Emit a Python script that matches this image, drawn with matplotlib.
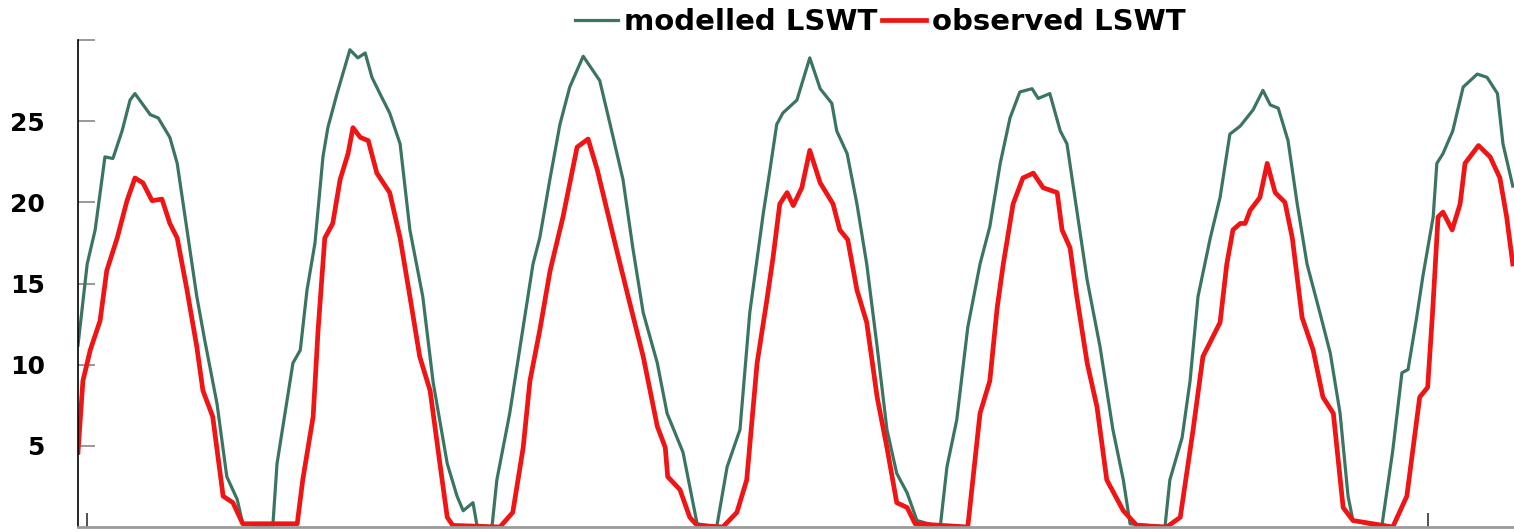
import matplotlib
matplotlib.use("Agg")
import matplotlib.pyplot as plt

# time axis: days since start of record
model_days = [0, 15, 28, 44, 57, 72, 85, 93, 118, 131, 150, 162, 178, 194, 207, 227, 243, 260, 269,
              318, 325, 351, 363, 374, 387, 400, 408, 423, 444, 457, 469, 480, 493, 509, 526, 542, 563,
              580, 603, 619, 629, 645, 652,
              676, 684, 705, 722, 743, 754, 771, 787, 803, 825, 852, 869, 890, 906, 923, 946, 962, 988, 1011,
              1043, 1060, 1081, 1097, 1119, 1130, 1141, 1151, 1174, 1195, 1212, 1231, 1239, 1256, 1272, 1288,
              1305, 1321, 1337, 1354, 1370,
              1408, 1419, 1435, 1453, 1473, 1489, 1506, 1522, 1538, 1558, 1568, 1587, 1604, 1615, 1628, 1648,
              1669, 1690, 1707, 1718,
              1775, 1783, 1803, 1816, 1829, 1849, 1865, 1881, 1898, 1919, 1935, 1947, 1960, 1976, 1991, 2007,
              2028, 2045, 2061, 2074, 2082,
              2129, 2147, 2162, 2172, 2186, 2196, 2213, 2219, 2229, 2245, 2262, 2285, 2301, 2318, 2327, 2343]
model_lswt = [11.2, 16.2, 18.3, 22.8, 22.7, 24.4, 26.3, 26.7, 25.4, 25.2, 24.0, 22.4, 18.3, 14.2, 11.5, 7.6, 3.1, 1.7, 0.2,
              0.0, 3.9, 10.1, 10.9, 14.6, 17.5, 22.8, 24.6, 26.7, 29.4, 28.9, 29.2, 27.7, 26.7, 25.5, 23.6, 18.3, 14.2,
              8.9, 3.9, 1.9, 1.0, 1.5, 0.0,
              0.0, 2.9, 7.0, 11.1, 16.2, 17.8, 21.5, 24.8, 27.1, 29.0, 27.5, 24.8, 21.4, 17.2, 13.2, 10.1, 7.0, 4.6, 0.2,
              0.0, 3.7, 6.0, 13.2, 19.3, 22.0, 24.8, 25.5, 26.3, 28.9, 27.0, 26.1, 24.4, 23.0, 19.9, 16.2,
              11.1, 6.0, 3.3, 2.1, 0.4,
              0.0, 3.7, 6.6, 12.3, 16.2, 18.5, 22.4, 25.2, 26.8, 27.0, 26.4, 26.7, 24.4, 23.6, 20.3, 15.2,
              11.1, 6.0, 2.9, 0.2,
              0.0, 2.9, 5.5, 9.0, 14.2, 17.8, 20.3, 24.2, 24.7, 25.7, 26.9, 26.0, 25.8, 23.8, 19.9, 16.2,
              13.2, 10.7, 7.0, 1.9, 0.4,
              0.0, 4.7, 9.5, 9.7, 12.9, 15.4, 19.1, 22.4, 23.0, 24.4, 27.1, 27.9, 27.7, 26.7, 23.6, 21.0]

obs_days = [0, 8, 20, 36, 47, 64, 80, 93, 106, 121, 137, 150, 162, 178, 194, 204, 220, 237, 253, 269,
            358, 367, 384, 392, 403, 416, 428, 441, 449, 461, 474, 488, 509, 526, 542, 558, 575, 591, 603, 612,
            689, 710, 727, 738, 754, 771, 792, 815, 833, 848, 864, 880, 901, 923, 946, 959, 963, 983, 999, 1011,
            1053, 1076, 1092, 1109, 1125, 1135, 1146, 1158, 1168, 1182, 1195, 1212, 1233, 1244, 1257, 1272, 1288,
            1305, 1321, 1337, 1354, 1367,
            1453, 1473, 1489, 1501, 1511, 1527, 1543, 1560, 1576, 1599, 1607, 1620, 1631, 1648, 1664, 1680, 1707, 1729,
            1778, 1800, 1821, 1837, 1865, 1876, 1886, 1898, 1906, 1914, 1930, 1942, 1955, 1971, 1983, 1999,
            2017, 2033, 2050, 2066, 2082,
            2147, 2170, 2191, 2204, 2212, 2221, 2229, 2244, 2257, 2265, 2287, 2306, 2322, 2333, 2343]
obs_lswt = [4.6, 9.0, 10.9, 12.7, 15.8, 17.8, 20.1, 21.5, 21.2, 20.1, 20.2, 18.7, 17.8, 14.6, 11.1, 8.4, 6.8, 1.9, 1.5, 0.2,
            0.2, 2.9, 6.8, 12.1, 17.8, 18.7, 21.4, 23.0, 24.6, 24.0, 23.8, 21.8, 20.6, 17.8, 14.2, 10.5, 8.4, 3.9, 0.6, 0.1,
            0.0, 0.9, 4.9, 9.0, 12.1, 15.8, 19.1, 23.4, 23.9, 22.0, 19.5, 17.0, 13.8, 10.5, 6.2, 4.9, 3.1, 2.3, 0.6, 0.1,
            0.0, 0.9, 2.9, 10.1, 14.0, 16.6, 19.9, 20.6, 19.8, 20.9, 23.2, 21.2, 19.9, 18.3, 17.7, 14.6, 12.6,
            8.0, 4.9, 1.5, 1.2, 0.2,
            0.0, 7.0, 9.0, 13.5, 16.2, 19.9, 21.5, 21.8, 20.9, 20.6, 18.3, 17.2, 14.2, 10.1, 7.4, 2.9, 1.0, 0.1,
            0.0, 0.6, 6.0, 10.5, 12.6, 16.2, 18.3, 18.7, 18.7, 19.5, 20.3, 22.4, 20.6, 20.0, 17.8, 12.9,
            10.9, 8.0, 7.0, 1.2, 0.4,
            0.0, 1.9, 8.0, 8.6, 13.2, 19.1, 19.4, 18.3, 19.9, 22.4, 23.5, 22.8, 21.5, 19.1, 16.2]

year_ticks = [15, 2205]
temp_ticks = [5, 10, 15, 20, 25, 30]
temp_labels = ['5', '10', '15', '20', '25', '']

fig = plt.figure(figsize=(15.14, 5.32), dpi=100)
ax = fig.add_axes([78 / 1514, 5 / 532, 1436 / 1514, 487 / 532])

ax.plot(model_days, model_lswt, color='#3b7562', lw=2.3, label='modelled LSWT')
ax.plot(obs_days, obs_lswt, color='#f01414', lw=3.4, label='observed LSWT')

ax.set_xlim(0, 2345)
ax.set_ylim(0, 30)

ax.spines['top'].set_visible(False)
ax.spines['right'].set_visible(False)
ax.spines['left'].set_color('black')
ax.spines['left'].set_linewidth(1.2)
ax.spines['bottom'].set_color('#9a9a9a')
ax.spines['bottom'].set_linewidth(2)

ax.set_xticks(year_ticks)
ax.set_xticklabels([])
ax.tick_params(axis='x', direction='in', length=10, width=1.2, color='#333333')
ax.set_yticks(temp_ticks)
ax.set_yticklabels(temp_labels, fontsize=18, fontweight='bold', family='DejaVu Sans')
ax.tick_params(axis='y', direction='in', length=12, width=1.2, color='#888888', pad=24)

fig.legend(loc='center', bbox_to_anchor=(880 / 1514, 1 - 22 / 532), ncol=2, frameon=False,
           prop={'family': 'DejaVu Sans', 'weight': 'bold', 'size': 21},
           handlelength=1.5, handletextpad=0.2, columnspacing=0.15, borderaxespad=0)

fig.savefig('out.png', dpi=100)
